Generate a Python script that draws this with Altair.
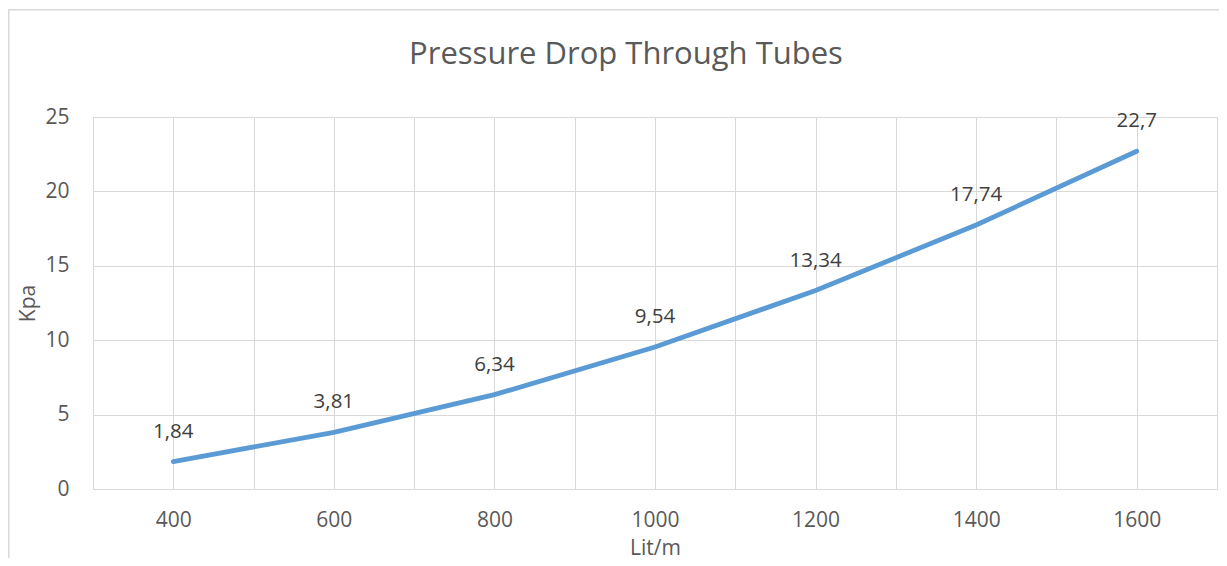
import altair as alt
import pandas as pd

flow = [400, 600, 800, 1000, 1200, 1400, 1600]
kpa = [1.84, 3.81, 6.34, 9.54, 13.34, 17.74, 22.7]
labels = ["1,84", "3,81", "6,34", "9,54", "13,34", "17,74", "22,7"]
title_text = "Pressure Drop Through Tubes"

df = pd.DataFrame({"flow": flow, "kpa": kpa, "label": labels})

FONT = "Open Sans"
GRID = "#D9D9D9"
TXT = "#595959"

xgrid = list(range(300, 1701, 100))

x = alt.X("flow:Q", scale=alt.Scale(domain=[300, 1700], nice=False, zero=False),
          axis=alt.Axis(values=xgrid, format="d", title="Lit/m",
                        labelExpr="(datum.value % 200 == 0 && datum.value >= 400 && datum.value <= 1600) ? datum.label : ''",
                        ticks=False, domainColor=GRID, gridColor=GRID, labelPadding=20,
                        titleX=562, titleY=59, titleBaseline="middle"))
y = alt.Y("kpa:Q", scale=alt.Scale(domain=[0, 25], nice=False),
          axis=alt.Axis(values=[0, 5, 10, 15, 20, 25], title="Kpa", ticks=False,
                        domain=False, gridColor=GRID, labelPadding=24,
                        titleX=-65, titleY=186, titleBaseline="middle", titleAngle=-90))

line = alt.Chart(df).mark_line(color="#5B9BD5", strokeWidth=4.8, strokeCap="round").encode(x=x, y=y)
text = alt.Chart(df).mark_text(dy=-30, fontSize=20.5, font=FONT, color="#404040").encode(
    x="flow:Q", y="kpa:Q", text="label:N")
frame = alt.Chart(alt.Data(values=[{}])).mark_rect(filled=False, stroke=GRID, strokeWidth=1.5).encode(
    x=alt.value(-84.2), x2=alt.value(1400), y=alt.value(-107.2), y2=alt.value(700))
title = alt.Chart(alt.Data(values=[{"t": title_text}])).mark_text(
    fontSize=31, font=FONT, color=TXT, baseline="alphabetic", align="center").encode(
    x=alt.value(533), y=alt.value(-53), text="t:N")

chart = alt.layer(frame, line, text, title).properties(
    width=1124, height=372,
    padding={"left": 85, "top": 109, "right": 2, "bottom": 69},
    autosize=alt.AutoSizeParams(type="none"),
).configure_axis(
    labelFont=FONT, titleFont=FONT, labelFontSize=21, titleFontSize=21,
    labelColor=TXT, titleColor=TXT, titleFontWeight="normal"
).configure_view(stroke=GRID)

chart.save("out.html", embed_options={"renderer": "svg", "actions": False})
